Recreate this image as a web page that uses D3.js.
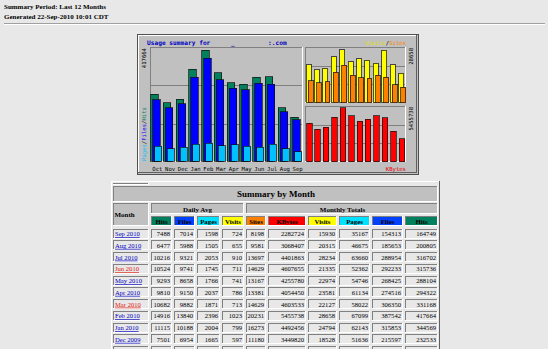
<!DOCTYPE html>
<html>
<head>
<meta charset="utf-8">
<script src="https://cdn.jsdelivr.net/npm/d3@7"></script>
<style>
  body { margin: 0; background: #e8e8e8; }
  svg { display: block; }
</style>
</head>
<body>
<div id="page"></div>
<script>
// Data (chart runs Oct 2009 -> Sep 2010, table lists newest first)
const monthLabels = ['Oct', 'Nov', 'Dec', 'Jan', 'Feb', 'Mar', 'Apr', 'May', 'Jun', 'Jul', 'Aug', 'Sep']
const monthNames = ['Oct 2009', 'Nov 2009', 'Dec 2009', 'Jan 2010', 'Feb 2010', 'Mar 2010',
  'Apr 2010', 'May 2010', 'Jun 2010', 'Jul 2010', 'Aug 2010', 'Sep 2010']

const hits = [252000, 219030, 232533, 344569, 417664, 331168, 294322, 288104, 315736, 316702, 200805, 164749]
const files = [231000, 200010, 215597, 315853, 387542, 306350, 274516, 268425, 292233, 288954, 185653, 154313]
const pages = [56000, 46010, 51636, 62143, 67099, 58022, 61134, 54746, 52362, 63660, 46675, 35167]
const visits = [20300, 17735, 18528, 24794, 28658, 22127, 23581, 22974, 21335, 28234, 20315, 15930]
const sites = [11800, 10800, 11180, 16273, 20231, 14629, 13381, 13167, 14629, 13697, 9581, 8198]
const kbytes = [3870000, 3260000, 3449820, 4492456, 5455738, 4603533, 4054450, 4255780, 4607655, 4401863, 3068407, 2282724]

const avgHits = [8129, 7301, 7501, 11115, 14916, 10682, 9810, 9293, 10524, 10216, 6477, 7488]
const avgFiles = [7452, 6667, 6954, 10188, 13840, 9882, 9150, 8658, 9741, 9321, 5988, 7014]
const avgPages = [1806, 1534, 1665, 2004, 2396, 1871, 2037, 1766, 1745, 2053, 1505, 1598]
const avgVisits = [655, 591, 597, 799, 1023, 713, 786, 741, 711, 910, 655, 724]

const visitedMonths = ['Jun 2010', 'Mar 2010']

// Colours (webalizer defaults)
const col = {
  hits: '#00805c', files: '#0000ff', pages: '#00c0ff',
  visits: '#ffff00', sites: '#ff8000', kbytes: '#ff0000',
  hitsH: '#00805c', filesH: '#0040ff', pagesH: '#00e0ff',
  gray: '#c0c0c0', dark: '#808080', bg: '#e8e8e8'
}

const svg = d3.select('#page')
  .append('svg')
  .attr('width', 548)
  .attr('height', 349)
  .style('background', col.bg)

const serif = '"Liberation Serif", "Times New Roman", serif'
const mono = '"DejaVu Sans Mono", monospace'

// 3d box helper
function bevel(g, x, y, w, h, fill, raised) {
  const light = '#ffffff', shade = raised ? '#606060' : col.dark
  g.append('rect').attr('x', x).attr('y', y).attr('width', w).attr('height', h).attr('fill', fill)
  g.append('path')
    .attr('d', `M${x + 0.5},${y + h}V${y + 0.5}H${x + w}`)
    .attr('fill', 'none').attr('stroke', raised ? light : shade)
  g.append('path')
    .attr('d', `M${x + w - 0.5},${y}V${y + h - 0.5}H${x}`)
    .attr('fill', 'none').attr('stroke', raised ? shade : light)
}

// Page header
svg.append('text').attr('x', 4).attr('y', 9)
  .style('font', `bold 7px ${serif}`).text('Summary Period: Last 12 Months')
svg.append('text').attr('x', 4).attr('y', 18.5)
  .style('font', `bold 7px ${serif}`).text('Generated 22-Sep-2010 10:01 CDT')
svg.append('line').attr('x1', 4).attr('x2', 545).attr('y1', 23.5).attr('y2', 23.5).attr('stroke', '#a0a0a0')
svg.append('line').attr('x1', 4).attr('x2', 545).attr('y1', 24.5).attr('y2', 24.5).attr('stroke', '#ffffff')

// ---------- Usage graph ----------
const graph = svg.append('g').attr('shape-rendering', 'crispEdges')
graph.append('rect').attr('x', 137).attr('y', 34).attr('width', 281).attr('height', 140)
  .attr('fill', col.gray).attr('stroke', '#505050')
bevel(graph, 138, 35, 279, 138, col.gray, true)

const left = { x: 150, y: 47, w: 153, h: 115 }
const rTop = { x: 305, y: 47, w: 101, h: 56 }
const rBot = { x: 305, y: 106, w: 101, h: 56 }

;[left, rTop, rBot].forEach(p => {
  bevel(graph, p.x, p.y, p.w, p.h, col.gray, false)
  ;[1, 2].forEach(k => {
    graph.append('line')
      .attr('x1', p.x + 1).attr('x2', p.x + p.w - 1)
      .attr('y1', Math.round(p.y + p.h * k / 3) + 0.5)
      .attr('y2', Math.round(p.y + p.h * k / 3) + 0.5)
      .attr('stroke', col.dark)
  })
})

const xLeft = d3.scaleBand().domain(monthLabels).range([left.x, left.x + left.w])
const xRight = d3.scaleBand().domain(monthLabels).range([rTop.x, rTop.x + rTop.w])
const yLeft = d3.scaleLinear().domain([0, d3.max(hits)]).range([left.y + left.h - 1, left.y + 3])
const yVisits = d3.scaleLinear().domain([0, d3.max(visits)]).range([rTop.y + rTop.h - 0.5, rTop.y + 2.5])
const yKB = d3.scaleLinear().domain([0, d3.max(kbytes)]).range([rBot.y + rBot.h - 0.5, rBot.y + 1.5])

function bars(values, xs, ys, offset, width, color) {
  graph.append('g').selectAll('rect')
    .data(values)
    .join('rect')
    .attr('x', (d, i) => xs(monthLabels[i]) + offset)
    .attr('y', d => ys(d))
    .attr('width', width)
    .attr('height', d => ys(0) - ys(d))
    .attr('fill', color)
    .attr('stroke', '#101010')
    .attr('stroke-width', 0.7)
}

bars(hits, xLeft, yLeft, 0.5, 7.5, col.hits)
bars(files, xLeft, yLeft, 2.5, 7.5, col.files)
bars(pages, xLeft, yLeft, 4.5, 7, col.pages)
bars(visits, xRight, yVisits, 1, 5, col.visits)
bars(sites, xRight, yVisits, 3.2, 4.8, col.sites)
bars(kbytes, xRight, yKB, 1.5, 5.5, col.kbytes)

// graph labels
const lbl = svg.append('g').style('font', `5.6px ${mono}`)
lbl.append('text').attr('x', 147).attr('y', 44.5)
  .style('font', `bold 6.2px ${mono}`).attr('fill', '#0000c0').text('Usage summary for')
lbl.append('text').attr('x', 231).attr('y', 44.5)
  .style('font', `bold 6.2px ${mono}`).attr('fill', '#0000c0').text('_')
lbl.append('text').attr('x', 268).attr('y', 44.5)
  .style('font', `bold 6.2px ${mono}`).attr('fill', '#0000c0').text(':.com')

const vs = lbl.append('text').attr('x', 406).attr('y', 44.5).attr('text-anchor', 'end')
vs.append('tspan').attr('fill', '#e0e000').text('Visits')
vs.append('tspan').attr('fill', '#000').text('/')
vs.append('tspan').attr('fill', col.sites).text('Sites')

lbl.append('text').attr('x', 406).attr('y', 170.5).attr('text-anchor', 'end')
  .attr('fill', '#e00000').text('KBytes')

lbl.append('g').selectAll('text')
  .data(monthLabels)
  .join('text')
  .attr('x', d => xLeft(d) + xLeft.bandwidth() / 2 + 1)
  .attr('y', 170.5)
  .attr('text-anchor', 'middle')
  .attr('fill', '#000')
  .text(d => d)

lbl.append('text').attr('transform', 'translate(146,48) rotate(-90)')
  .attr('text-anchor', 'end').text(d3.max(hits))
const pfh = lbl.append('text').attr('transform', 'translate(146,161) rotate(-90)')
pfh.append('tspan').attr('fill', col.pages).text('Pages')
pfh.append('tspan').attr('fill', '#000').text('/')
pfh.append('tspan').attr('fill', col.files).text('Files')
pfh.append('tspan').attr('fill', '#000').text('/')
pfh.append('tspan').attr('fill', col.hits).text('Hits')
lbl.append('text').attr('transform', 'translate(413,48) rotate(-90)')
  .attr('text-anchor', 'end').text(d3.max(visits))
lbl.append('text').attr('transform', 'translate(413,107) rotate(-90)')
  .attr('text-anchor', 'end').text(d3.max(kbytes))

// ---------- Summary table ----------
const colWidths = [36, 21, 21, 23, 22, 20, 38, 29, 31, 31, 33]
const colX = []
colWidths.reduce((x, w) => { colX.push(x); return x + w + 2 }, 113)

const headers = [
  { label: 'Hits', fill: col.hitsH }, { label: 'Files', fill: col.filesH },
  { label: 'Pages', fill: col.pagesH }, { label: 'Visits', fill: col.visits },
  { label: 'Sites', fill: col.sites }, { label: 'KBytes', fill: col.kbytes },
  { label: 'Visits', fill: col.visits }, { label: 'Pages', fill: col.pagesH },
  { label: 'Files', fill: col.filesH }, { label: 'Hits', fill: col.hitsH }
]

const tbl = svg.append('g').attr('shape-rendering', 'crispEdges')
const tableRight = colX[10] + colWidths[10] + 1
bevel(tbl, 111, 181, tableRight - 111 + 1, 349 - 181 + 10, col.bg, true)

// spacer + title
bevel(tbl, colX[0], 182.5, colWidths[0], 2.5, col.bg, false)
bevel(tbl, colX[0], 186, tableRight - colX[0] - 1, 15.5, col.gray, false)
tbl.append('text').attr('x', (colX[0] + tableRight) / 2).attr('y', 197)
  .attr('text-anchor', 'middle').style('font', `bold 9px ${serif}`).text('Summary by Month')

// header rows
bevel(tbl, colX[0], 203, colWidths[0], 23, col.gray, false)
tbl.append('text').attr('x', colX[0] + 1.5).attr('y', 217)
  .style('font', `bold 7px ${serif}`).text('Month')

const avgRight = colX[4] + colWidths[4]
bevel(tbl, colX[1], 203, avgRight - colX[1], 11, col.gray, false)
tbl.append('text').attr('x', (colX[1] + avgRight) / 2).attr('y', 211.5)
  .attr('text-anchor', 'middle').style('font', `bold 7px ${serif}`).text('Daily Avg')
bevel(tbl, colX[5], 203, tableRight - 1 - colX[5], 11, col.gray, false)
tbl.append('text').attr('x', (colX[5] + tableRight) / 2).attr('y', 211.5)
  .attr('text-anchor', 'middle').style('font', `bold 7px ${serif}`).text('Monthly Totals')

headers.forEach((h, i) => {
  const x = colX[i + 1], w = colWidths[i + 1]
  bevel(tbl, x, 215.5, w, 10.5, h.fill, false)
  tbl.append('text').attr('x', x + w / 2).attr('y', 223.5)
    .attr('text-anchor', 'middle').style('font', `bold 6.8px ${serif}`)
    .attr('fill', '#000').text(h.label)
})

// data rows, newest first
const rows = monthNames.map((m, i) => ({
  name: m,
  vals: [avgHits[i], avgFiles[i], avgPages[i], avgVisits[i], sites[i], kbytes[i], visits[i], pages[i], files[i], hits[i]]
})).reverse()

const yRow = d3.scaleLinear().domain([0, 1]).range([228.5, 240.25])

rows.forEach((r, ri) => {
  const y = yRow(ri)
  bevel(tbl, colX[0], y, colWidths[0], 10, col.bg, false)
  const link = visitedMonths.includes(r.name) ? '#e02010' : '#0000c0'
  tbl.append('text').attr('x', colX[0] + 2).attr('y', y + 7.6)
    .style('font', `6.6px ${serif}`).attr('fill', link)
    .style('text-decoration', 'underline').text(r.name)
  r.vals.forEach((v, ci) => {
    const x = colX[ci + 1], w = colWidths[ci + 1]
    bevel(tbl, x, y, w, 10, col.bg, false)
    tbl.append('text').attr('x', x + w - 2).attr('y', y + 7.6)
      .attr('text-anchor', 'end').style('font', `6.6px ${serif}`).text(v)
  })
})
</script>
</body>
</html>
